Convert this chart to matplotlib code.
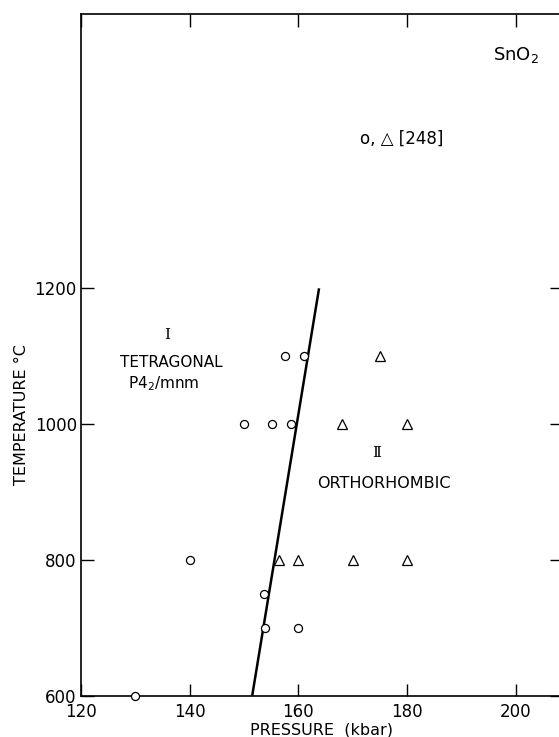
import matplotlib.pyplot as plt

plt.rcParams["font.family"] = ["DejaVu Sans"]

# SnO2 phase diagram: tetragonal (I) vs orthorhombic (II)
circle_p = [130, 140, 150, 155.2, 157.5, 161, 158.6, 153.7, 153.8, 160]
circle_t = [600, 800, 1000, 1000, 1100, 1100, 1000, 750, 700, 700]
triangle_p = [175, 168, 180, 156.5, 160, 170, 180]
triangle_t = [1100, 1000, 1000, 800, 800, 800, 800]
boundary_p = [151.5, 163.8]
boundary_t = [600, 1200]

x_ticks = [120, 140, 160, 180, 200]
y_ticks = [600, 800, 1000, 1200]

fig = plt.figure(figsize=(5.59, 7.37), dpi=100)
ax = fig.add_axes([81 / 559, 41.3 / 737, 481 / 559, 681.7 / 737])

ax.plot(boundary_p, boundary_t, color="black", lw=1.8, solid_capstyle="butt")
ax.plot(circle_p, circle_t, "o", ms=5.8, mfc="white", mec="black", mew=0.9,
        linestyle="none", clip_on=False, zorder=3)
ax.plot(triangle_p, triangle_t, "^", ms=7, mfc="white", mec="black", mew=0.9,
        linestyle="none", clip_on=False, zorder=3)

ax.set_xlim(120, 208.5)
ax.set_ylim(600, 1604)
ax.set_xticks(x_ticks)
ax.set_yticks(y_ticks)
ax.set_xticklabels([str(v) for v in x_ticks], fontsize=12)
ax.set_yticklabels([str(v) for v in y_ticks], fontsize=12)
ax.tick_params(direction="in", length=9, width=1, top=True, right=True,
               colors="black")
ax.tick_params(axis="x", pad=5)
ax.tick_params(axis="y", pad=3)
for s in ax.spines.values():
    s.set_linewidth(1.2)

ax.set_xlabel("PRESSURE  (kbar)", fontsize=11.5, labelpad=1)
ax.set_ylabel("TEMPERATURE °C", fontsize=11.5)
ax.yaxis.set_label_coords(-0.108, 0.412)

ax.text(200, 1543, "SnO$_2$", fontsize=13, ha="center", va="center")
ax.text(179, 1421, "o, △ [248]", fontsize=12, ha="center", va="center")
ax.text(135.8, 1131, "I", fontsize=11, ha="center", va="center",
        family="DejaVu Serif")
ax.text(136.7, 1091, "TETRAGONAL", fontsize=11, ha="center", va="center")
ax.text(135.2, 1060, "P4$_2$/mnm", fontsize=11, ha="center", va="center")
ax.text(174.4, 957, "Ⅱ", fontsize=11, ha="center", va="center",
        family="DejaVu Serif")
ax.text(175.7, 913, "ORTHORHOMBIC", fontsize=11.5, ha="center", va="center")

fig.savefig("out.png", dpi=100)
